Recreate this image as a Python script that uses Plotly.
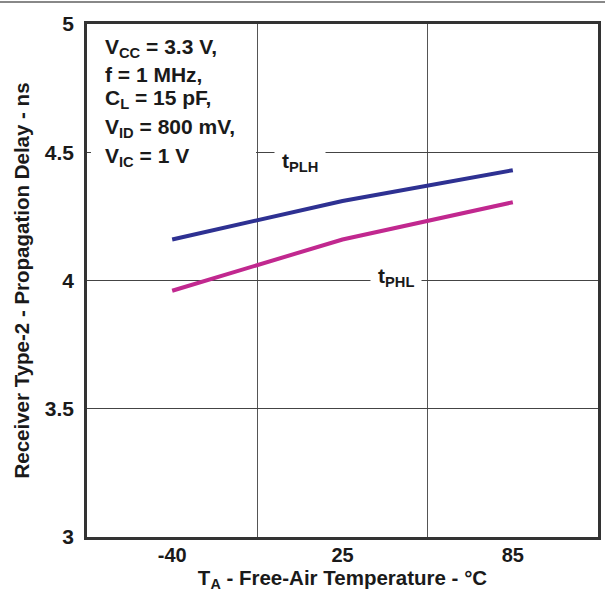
import plotly.graph_objects as go

# Ambient temperature categories (deg C)
temps = ["-40", "25", "85"]
# Propagation delay (ns)
t_plh = [4.16, 4.31, 4.43]
t_phl = [3.96, 4.16, 4.305]

y_ticks = [3, 3.5, 4, 4.5, 5]
y_ticktext = ["3", "3.5", "4", "4.5", "5"]

FONT = "Liberation Sans, Arial, sans-serif"
W, H = 605, 592
ML, MR, MT, MB = 87, 7, 24, 55
PW, PH = W - ML - MR, H - MT - MB


def px_x(x):
    return (x - ML) / PW


def px_y(y):
    return (H - MB - y) / PH


fig = go.Figure()
fig.add_trace(go.Scatter(x=temps, y=t_plh, mode="lines",
                         line=dict(color="#2E3192", width=4), name="tPLH",
                         showlegend=False))
fig.add_trace(go.Scatter(x=temps, y=t_phl, mode="lines",
                         line=dict(color="#C1288F", width=4), name="tPHL",
                         showlegend=False))

fig.update_xaxes(
    type="category", range=[-0.5, 2.5], tickson="boundaries",
    showgrid=True, gridcolor="#555555", gridwidth=1,
    ticks="", showline=True, linecolor="#333333", linewidth=2.5, mirror=True,
    tickfont=dict(family=FONT, size=20, color="#1a1a1a", weight=700),
    ticklabelstandoff=-2,
    title=dict(text="T<sub>A</sub> - Free-Air Temperature - °C",
               font=dict(family=FONT, size=20.5, color="#1a1a1a", weight=700),
               standoff=4),
    zeroline=False,
)
fig.update_yaxes(
    range=[3, 5], tickvals=y_ticks, ticktext=y_ticktext,
    showgrid=True, gridcolor="#444444", gridwidth=1,
    ticks="", showline=True, linecolor="#333333", linewidth=2.5, mirror=True,
    tickfont=dict(family=FONT, size=21, color="#1a1a1a", weight=700),
    ticklabelstandoff=6,
    title=dict(text="Receiver Type-2 - Propagation Delay - ns",
               font=dict(family=FONT, size=20.5, color="#1a1a1a", weight=700),
               standoff=10),
    zeroline=False,
)

text_font = dict(family=FONT, size=21, color="#1a1a1a", weight=700)

# Operating-condition block in the upper-left corner
conditions = [
    "V<sub>CC</sub> = 3.3 V,",
    "f = 1 MHz,",
    "C<sub>L</sub> = 15 pF,",
    "V<sub>ID</sub> = 800 mV,",
    "V<sub>IC</sub> = 1 V",
]
cond_y = [48, 74, 99, 128, 157]

shapes = [
    # white panel behind the condition text
    dict(type="rect", xref="paper", yref="paper", layer="above",
         x0=px_x(91), x1=px_x(256), y0=px_y(189), y1=px_y(26),
         fillcolor="white", line=dict(width=0)),
    # rule across the top of the page
    dict(type="line", xref="paper", yref="paper",
         x0=px_x(0), x1=px_x(605), y0=px_y(2), y1=px_y(2),
         line=dict(color="#888888", width=2)),
]

annotations = []
for txt, yy in zip(conditions, cond_y):
    annotations.append(dict(text=txt, xref="paper", yref="paper",
                            x=px_x(103), y=px_y(yy), xanchor="left",
                            yanchor="middle", showarrow=False, font=text_font))

annotations.append(dict(text="t<sub>PLH</sub>", xref="paper", yref="paper",
                        x=px_x(300), y=px_y(162), xanchor="center",
                        yanchor="middle", showarrow=False, font=text_font,
                        bgcolor="white", borderpad=7))
annotations.append(dict(text="t<sub>PHL</sub>", xref="paper", yref="paper",
                        x=px_x(396), y=px_y(277), xanchor="center",
                        yanchor="middle", showarrow=False, font=text_font,
                        bgcolor="white", borderpad=7))

fig.update_layout(
    width=W, height=H,
    margin=dict(l=ML, r=MR, t=MT, b=MB, autoexpand=False),
    paper_bgcolor="white", plot_bgcolor="white",
    shapes=shapes, annotations=annotations,
    font=dict(family=FONT),
)

fig.write_html("out.html")
